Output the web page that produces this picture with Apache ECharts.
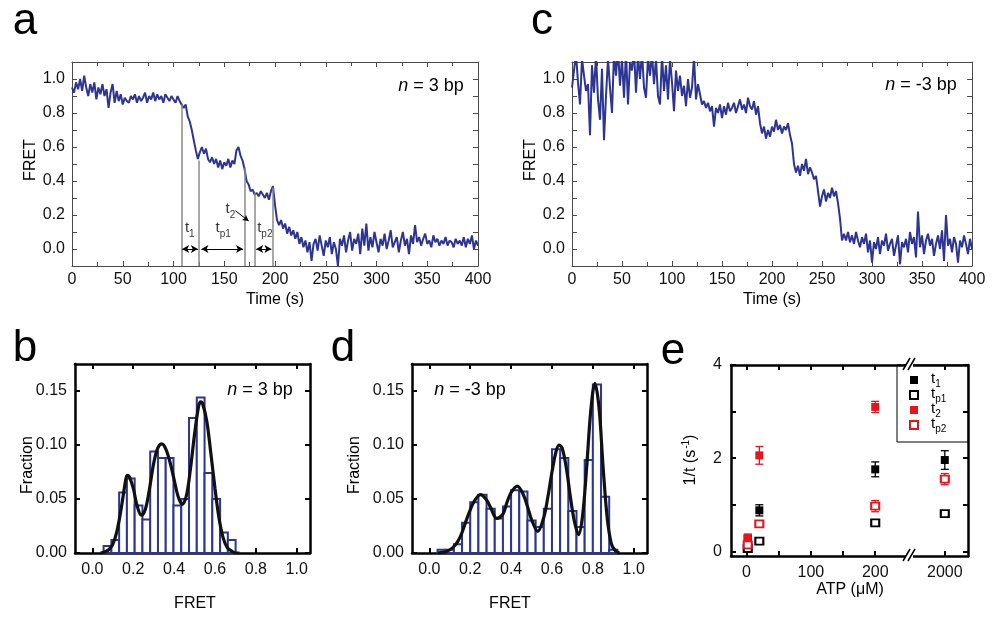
<!DOCTYPE html>
<html><head><meta charset="utf-8">
<script src="https://cdn.jsdelivr.net/npm/echarts@6/dist/echarts.min.js"></script>
<style>html,body{margin:0;padding:0;background:#fff}#c{width:994px;height:617px}</style>
</head><body><div id="c"></div>
<script>
// ---------------- DATA ----------------
const TRACE_DT = 2; // s between samples
const traceA = [
0.95,0.92,0.98,0.94,1.00,0.93,1.02,0.95,0.90,0.97,
0.92,0.98,0.88,0.95,0.91,0.97,0.90,0.94,0.83,0.92,
0.97,0.86,0.93,0.87,0.91,0.85,0.89,0.87,0.86,0.90,
0.88,0.91,0.86,0.90,0.87,0.89,0.92,0.86,0.90,0.88,
0.92,0.87,0.91,0.88,0.90,0.86,0.91,0.89,0.87,0.90,
0.88,0.86,0.90,0.87,0.85,0.83,0.85,0.78,0.75,0.70,
0.64,0.58,0.53,0.57,0.60,0.56,0.59,0.53,0.51,0.54,
0.50,0.53,0.48,0.52,0.47,0.51,0.49,0.53,0.48,0.52,
0.50,0.58,0.60,0.55,0.52,0.47,0.40,0.38,0.34,0.35,
0.32,0.33,0.31,0.34,0.32,0.30,0.33,0.29,0.34,0.37,
0.26,0.17,0.14,0.17,0.12,0.15,0.09,0.13,0.08,0.11,
0.06,0.10,0.03,0.07,0.01,0.05,-0.02,0.04,-0.07,0.03,
0.06,-0.01,0.08,0.02,-0.04,0.05,0.01,0.07,-0.03,0.04,
0.00,-0.10,0.06,0.02,0.08,-0.02,0.05,0.10,-0.01,0.06,
0.03,0.09,-0.03,0.12,0.02,0.15,-0.01,0.07,0.01,0.10,
0.04,-0.02,0.06,0.02,0.09,0.00,0.05,0.11,0.01,0.04,
0.07,-0.02,0.05,0.10,0.02,0.06,-0.03,0.08,0.03,0.14,
0.04,0.07,0.02,0.06,0.09,0.03,0.05,0.01,0.08,0.04,
0.06,0.02,0.05,0.03,0.07,0.02,0.05,0.04,0.01,0.06,
0.03,0.05,0.02,0.07,0.01,0.06,0.03,0.08,0.00,0.05,
0.02];
const traceC = [
0.95,1.05,1.15,0.98,0.85,1.12,1.02,0.93,0.97,0.67,
1.08,0.92,1.14,0.88,0.76,1.06,0.64,0.90,1.12,0.95,
0.80,1.15,1.02,1.18,0.96,1.12,0.89,1.16,0.85,1.10,
1.05,1.17,0.92,1.14,1.00,1.16,0.95,0.89,1.13,1.02,
1.15,0.97,1.12,0.90,0.85,1.14,0.93,1.08,0.88,1.12,
0.98,0.81,1.05,0.93,1.02,0.90,0.96,0.84,1.00,0.89,
0.95,1.13,0.88,0.97,0.91,0.85,0.87,0.83,0.86,0.81,
0.84,0.72,0.83,0.80,0.85,0.77,0.84,0.79,0.86,0.81,
0.83,0.86,0.80,0.84,0.88,0.82,0.85,0.80,0.89,0.84,
0.82,0.87,0.79,0.84,0.74,0.68,0.72,0.65,0.70,0.66,
0.72,0.69,0.76,0.70,0.73,0.68,0.72,0.70,0.74,0.67,
0.62,0.50,0.45,0.49,0.43,0.50,0.46,0.53,0.44,0.48,
0.45,0.41,0.43,0.34,0.25,0.31,0.35,0.28,0.33,0.30,
0.36,0.31,0.34,0.27,0.18,0.05,0.09,0.05,0.10,0.04,
0.08,0.03,0.10,0.05,0.01,0.07,0.03,0.09,-0.02,0.05,
-0.08,0.04,0.00,0.07,-0.03,0.05,0.02,0.09,-0.01,0.03,
0.06,-0.04,0.02,0.08,-0.09,0.04,0.01,0.06,-0.02,0.10,
0.03,0.07,-0.05,0.22,0.01,0.08,-0.03,0.05,0.09,0.02,
0.06,-0.04,0.03,0.08,0.00,0.11,-0.07,0.20,0.02,0.06,
-0.02,0.07,0.03,-0.08,0.05,0.01,0.08,0.03,-0.03,0.06,
0.00];

// dwell-time annotation in panel a
const stepTimes  = [108, 124.5, 170, 180, 197.5];
const stepTops   = [0.85, 0.52, 0.48, 0.33, 0.36];
const arrowSpans = [[108.5, 124], [127.5, 168.5], [181.5, 196.5]];
const intervalLabels = [['t','1',116,0.115],['t','p1',149,0.115],['t','p2',190,0.115]];
const t2Label = ['t','2',156,0.225];
const t2Pointer = [[161,0.225],[174,0.165]];

// histograms (bin centers, fraction)
const HIST_BIN_B = 0.038;
const histBCenters = [0.074,0.112,0.150,0.188,0.226,0.264,0.302,0.340,0.378,0.416,0.454,0.492,0.530,0.568,0.606,0.644,0.682];
const histBValues  = [0.0065,0.012,0.056,0.069,0.044,0.031,0.094,0.088,0.088,0.044,0.050,0.125,0.144,0.074,0.050,0.019,0.012];
const fitBx = [0.04,0.06,0.08,0.10,0.12,0.14,0.16,0.17,0.18,0.20,0.22,0.24,0.26,0.28,0.30,0.32,0.34,0.36,0.38,0.40,0.42,0.44,0.46,0.48,0.50,0.52,0.53,0.54,0.56,0.58,0.60,0.62,0.64,0.66,0.68,0.70,0.72];
const fitBy = [0.000,0.001,0.003,0.008,0.020,0.040,0.064,0.072,0.071,0.060,0.043,0.035,0.041,0.060,0.083,0.097,0.101,0.096,0.084,0.068,0.052,0.045,0.053,0.078,0.110,0.136,0.140,0.138,0.122,0.092,0.060,0.032,0.014,0.005,0.002,0.000,0.000];

const HIST_BIN_D = 0.04;
const histDCenters = [0.06,0.10,0.14,0.18,0.22,0.26,0.30,0.34,0.38,0.42,0.46,0.50,0.54,0.58,0.62,0.66,0.70,0.74,0.78,0.82,0.86,0.90];
const histDValues  = [0.003,0.003,0.008,0.028,0.047,0.054,0.041,0.032,0.043,0.058,0.057,0.030,0.024,0.041,0.096,0.088,0.039,0.024,0.086,0.156,0.052,0.003];
const fitDx = [0.04,0.08,0.10,0.12,0.14,0.16,0.18,0.20,0.22,0.25,0.28,0.30,0.33,0.36,0.38,0.40,0.43,0.46,0.48,0.50,0.53,0.56,0.58,0.60,0.62,0.635,0.65,0.67,0.69,0.71,0.73,0.75,0.77,0.79,0.81,0.83,0.85,0.87,0.89,0.91,0.93];
const fitDy = [0.000,0.001,0.003,0.006,0.011,0.019,0.030,0.040,0.048,0.054,0.049,0.042,0.032,0.036,0.047,0.056,0.062,0.054,0.043,0.031,0.020,0.033,0.052,0.075,0.094,0.100,0.097,0.079,0.052,0.029,0.017,0.035,0.080,0.132,0.157,0.135,0.080,0.033,0.009,0.002,0.000];

// panel e: rates vs [ATP]
const atpLow  = [2, 20, 200];
const atpHigh = [2000];
const t1Rate  = [0.28, 0.88, 1.76], t1Err  = [0.03, 0.12, 0.16];
const t1RateH = [1.96],             t1ErrH = [0.20];
const tp1Rate = [0.06, 0.22, 0.61], tp1Err = [0.02, 0.03, 0.04];
const tp1RateH= [0.81],             tp1ErrH= [0.05];
const t2Rate  = [0.30, 2.06, 3.10], t2Err  = [0.04, 0.19, 0.12];
const tp2Rate = [0.14, 0.59, 0.97], tp2Err = [0.03, 0.05, 0.12];
const tp2RateH= [1.55],             tp2ErrH= [0.12];

// tick labels
const traceYLabels = [0,0.2,0.4,0.6,0.8,1.0];
const traceYTicks  = [0,0.1,0.2,0.3,0.4,0.5,0.6,0.7,0.8,0.9,1.0];
const histXLabels  = [0,0.2,0.4,0.6,0.8,1.0];
const histYLabels  = [0,0.05,0.10,0.15];
const eYTicks = [0,1,2,3,4], eYLabels = [0,2,4];
const eXTicksLow = [0,50,100,150,200], eXLabelsLow = [0,100,200];
const eXHigh = [2000];

// ---------------- STYLE ----------------
const FF = '"Liberation Sans", Arial, Helvetica, sans-serif';
const BLUE = '#2c3592';
const RED = '#e8141c';
const thin = '#4a4a4a';

const chart = echarts.init(document.getElementById('c'));

const pairs = (xs, ys) => xs.map((x, i) => [x, ys[i]]);
const tracePairs = arr => arr.map((v, i) => [i * TRACE_DT, v]);

function traceX(grid, top) {
  return {
    gridIndex: grid, type: 'value', min: 0, max: 400, interval: 50,
    position: top ? 'top' : 'bottom',
    axisLine: {show: true, onZero: false, lineStyle: {color: thin, width: 1}},
    axisTick: {inside: true, length: 5, lineStyle: {color: thin, width: 1}},
    minorTick: {show: true, splitNumber: 2, length: 4, lineStyle: {color: thin, width: 1}},
    axisLabel: {show: !top, fontFamily: FF, fontSize: 16, color: '#111', margin: 6},
    splitLine: {show: false}, minorSplitLine: {show: false}
  };
}
function traceY(grid, right) {
  return {
    gridIndex: grid, type: 'value', min: -0.1, max: 1.1,
    position: right ? 'right' : 'left',
    axisLine: {show: true, onZero: false, lineStyle: {color: thin, width: 1}},
    axisTick: {inside: true, length: 5, customValues: traceYTicks, lineStyle: {color: thin, width: 1}},
    axisLabel: {show: !right, customValues: traceYLabels, formatter: v => v.toFixed(1), fontFamily: FF, fontSize: 16, color: '#111', margin: 7},
    splitLine: {show: false}
  };
}
const thick = {color: '#000', width: 2.5};
const thickTick = {color: '#000', width: 2};
function histX(grid, top) {
  return {
    gridIndex: grid, type: 'value', min: -0.085, max: 1.065,
    position: top ? 'top' : 'bottom',
    axisLine: {show: true, onZero: false, lineStyle: thick},
    axisTick: {inside: true, length: 5, customValues: histXLabels, lineStyle: thickTick},
    axisLabel: {show: !top, customValues: histXLabels, formatter: v => v.toFixed(1), fontFamily: FF, fontSize: 16, color: '#111', margin: 9},
    splitLine: {show: false}
  };
}
function histY(grid, right) {
  return {
    gridIndex: grid, type: 'value', min: 0, max: 0.175,
    position: right ? 'right' : 'left',
    axisLine: {show: true, onZero: false, lineStyle: thick},
    axisTick: {inside: true, length: 5, customValues: histYLabels, lineStyle: thickTick},
    axisLabel: {show: !right, customValues: histYLabels, formatter: v => v.toFixed(2), fontFamily: FF, fontSize: 16, color: '#111', margin: 8},
    splitLine: {show: false}
  };
}
function eX(grid, top, lo, hi, ticks, labels) {
  return {
    gridIndex: grid, type: 'value', min: lo, max: hi,
    position: top ? 'top' : 'bottom',
    axisLine: {show: true, onZero: false, lineStyle: thick},
    axisTick: {inside: true, length: 5, customValues: ticks, lineStyle: thickTick},
    axisLabel: {show: !top, customValues: labels, formatter: v => String(v), fontFamily: FF, fontSize: 16, color: '#111', margin: 9},
    splitLine: {show: false}
  };
}
function eY(grid, right) {
  return {
    gridIndex: grid, type: 'value', min: -0.1, max: 4,
    position: right ? 'right' : 'left',
    axisLine: {show: true, onZero: false, lineStyle: thick},
    axisTick: {inside: true, length: 5, customValues: eYTicks, lineStyle: thickTick},
    axisLabel: {show: !right, customValues: eYLabels, formatter: v => String(v), fontFamily: FF, fontSize: 16, color: '#111', margin: 9},
    splitLine: {show: false}
  };
}

function histRenderer(bin) {
  return function (params, api) {
    const c = api.value(0), h = api.value(1);
    const p0 = api.coord([c - bin / 2, h]);
    const p1 = api.coord([c + bin / 2, 0]);
    return {type: 'rect', shape: {x: p0[0], y: p0[1], width: p1[0] - p0[0], height: p1[1] - p0[1]},
            style: {fill: '#fff', stroke: BLUE, lineWidth: 2}};
  };
}
function errRender(params, api) {
  const x = api.value(0), y = api.value(1), e = api.value(2);
  const a = api.coord([x, y + e]), b = api.coord([x, y - e]);
  const w = 4;
  const st = {stroke: api.visual('color'), lineWidth: 1.3};
  return {type: 'group', children: [
    {type: 'line', shape: {x1: a[0], y1: a[1], x2: b[0], y2: b[1]}, style: st},
    {type: 'line', shape: {x1: a[0] - w, y1: a[1], x2: a[0] + w, y2: a[1]}, style: st},
    {type: 'line', shape: {x1: b[0] - w, y1: b[1], x2: b[0] + w, y2: b[1]}, style: st}
  ]};
}
const triple = (xs, ys, es) => xs.map((x, i) => [x, ys[i], es[i]]);

function errSeries(xi, yi, xs, ys, es, color) {
  return {type: 'custom', xAxisIndex: xi, yAxisIndex: yi, renderItem: errRender,
          itemStyle: {color}, data: triple(xs, ys, es), z: 3, silent: true};
}
function ptSeries(name, xi, yi, xs, ys, color, empty) {
  return {name, type: 'scatter', xAxisIndex: xi, yAxisIndex: yi,
          symbol: empty ? 'emptyRect' : 'rect', symbolSize: empty ? [8, 7] : 8,
          itemStyle: {color, borderColor: color, borderWidth: empty ? 1.2 : 0, opacity: 1},
          emphasis: {disabled: true},
          data: pairs(xs, ys), z: 4};
}

const subRich = {
  m: {fontFamily: FF, fontSize: 15, color: '#000', verticalAlign: 'bottom', padding: [0, 0, 4, 0]},
  s: {fontFamily: FF, fontSize: 10, color: '#000', verticalAlign: 'bottom'}
};

function text(x, y, t, size, rot) {
  const g = {type: 'text', x, y, style: {text: t, fontFamily: FF, fontSize: size, fill: '#000', align: 'center', verticalAlign: 'middle'}};
  if (rot) g.rotation = Math.PI / 2;
  return g;
}
const nrich = {i: {fontFamily: FF, fontSize: 18, fontStyle: 'italic', fill: '#000'}, r: {fontFamily: FF, fontSize: 18, fill: '#000'}};
function nLabel(x, y, s) {
  return {type: 'text', x, y, style: {text: '{i|n}{r| = ' + s + '}', rich: nrich, align: 'center', verticalAlign: 'middle'}};
}

const option = {
  animation: false,
  backgroundColor: '#fff',
  grid: [
    {left: 72, top: 62, width: 406, height: 204},
    {left: 572, top: 62, width: 400, height: 204},
    {left: 75, top: 364, width: 235, height: 189},
    {left: 412, top: 364, width: 235, height: 189},
    {left: 731, top: 365, width: 179, height: 191},
    {left: 910, top: 365, width: 58, height: 191}
  ],
  xAxis: [
    traceX(0, false), traceX(0, true),
    traceX(1, false), traceX(1, true),
    histX(2, false), histX(2, true),
    histX(3, false), histX(3, true),
    eX(4, false, -24, 254, eXTicksLow, eXLabelsLow), eX(4, true, -24, 254, eXTicksLow, eXLabelsLow),
    eX(5, false, 1946, 2036, eXHigh, eXHigh), eX(5, true, 1946, 2036, eXHigh, eXHigh)
  ],
  yAxis: [
    traceY(0, false), traceY(0, true),
    traceY(1, false), traceY(1, true),
    histY(2, false), histY(2, true),
    histY(3, false), histY(3, true),
    eY(4, false), eY(5, true)
  ],
  legend: {
    data: ['t1', 'tp1', 't2', 'tp2'],
    orient: 'vertical', left: 897, top: 365,
    itemWidth: 8, itemHeight: 8, itemGap: -3,
    padding: [6, 22, 8, 12],
    borderColor: '#000', borderWidth: 1,
    selectedMode: false,
    textStyle: {fontFamily: FF, fontSize: 15, color: '#000', rich: {
      m: {fontFamily: FF, fontSize: 15, color: '#000', verticalAlign: 'bottom', padding: [0, 0, 3, 8]},
      s: {fontFamily: FF, fontSize: 10, color: '#000', verticalAlign: 'bottom'}
    }},
    formatter: n => ({t1: '{m|t}{s|1}', tp1: '{m|t}{s|p1}', t2: '{m|t}{s|2}', tp2: '{m|t}{s|p2}'}[n])
  },
  series: [
    // panel a trace + annotations
    {type: 'line', xAxisIndex: 0, yAxisIndex: 0, data: tracePairs(traceA), showSymbol: false,
     lineStyle: {color: BLUE, width: 2}, itemStyle: {color: BLUE}, clip: true, z: 3,
     markLine: {silent: true, symbol: 'none', animation: false, label: {show: false},
       lineStyle: {color: '#8a8a8a', width: 1.5, type: 'solid'},
       data: stepTimes.map((t, i) => [{coord: [t, -0.1]}, {coord: [t, stepTops[i]]}])}},
    {type: 'line', xAxisIndex: 0, yAxisIndex: 0, data: [], z: 4,
     markLine: {silent: true, symbol: ['arrow', 'arrow'], symbolSize: [6, 7], animation: false, label: {show: false},
       lineStyle: {color: '#000', width: 1, type: 'solid'},
       data: arrowSpans.map(s => [{coord: [s[0], 0]}, {coord: [s[1], 0]}])}},
    {type: 'line', xAxisIndex: 0, yAxisIndex: 0, data: [], z: 4,
     markLine: {silent: true, symbol: ['none', 'arrow'], symbolSize: [5, 6], animation: false, label: {show: false},
       lineStyle: {color: '#000', width: 1, type: 'solid'},
       data: [[{coord: t2Pointer[0]}, {coord: t2Pointer[1]}]]}},
    {type: 'scatter', xAxisIndex: 0, yAxisIndex: 0, symbolSize: 0, silent: true, z: 5,
     data: intervalLabels.concat([t2Label]).map(l => ({value: [l[2], l[3]], sub: l[1]})),
     itemStyle: {color: 'transparent'},
     label: {show: true, position: 'inside', formatter: p => '{m|t}{s|' + p.data.sub + '}', rich: subRich}},
    // panel c
    {type: 'line', xAxisIndex: 2, yAxisIndex: 2, data: tracePairs(traceC), showSymbol: false,
     lineStyle: {color: BLUE, width: 2}, itemStyle: {color: BLUE}, clip: true, z: 3},
    // panel b
    {type: 'custom', xAxisIndex: 4, yAxisIndex: 4, renderItem: histRenderer(HIST_BIN_B), data: pairs(histBCenters, histBValues), z: 2, silent: true},
    {type: 'line', xAxisIndex: 4, yAxisIndex: 4, data: pairs(fitBx, fitBy), smooth: 0.35, showSymbol: false,
     lineStyle: {color: '#111', width: 3.2}, z: 3},
    // panel d
    {type: 'custom', xAxisIndex: 6, yAxisIndex: 6, renderItem: histRenderer(HIST_BIN_D), data: pairs(histDCenters, histDValues), z: 2, silent: true},
    {type: 'line', xAxisIndex: 6, yAxisIndex: 6, data: pairs(fitDx, fitDy), smooth: 0.35, showSymbol: false,
     lineStyle: {color: '#111', width: 3.2}, z: 3},
    // panel e, low segment
    errSeries(8, 8, atpLow, t1Rate, t1Err, '#000'),
    errSeries(8, 8, atpLow, tp1Rate, tp1Err, '#000'),
    errSeries(8, 8, atpLow, t2Rate, t2Err, RED),
    errSeries(8, 8, atpLow, tp2Rate, tp2Err, RED),
    ptSeries('t1', 8, 8, atpLow, t1Rate, '#000', false),
    ptSeries('tp1', 8, 8, atpLow, tp1Rate, '#000', true),
    ptSeries('t2', 8, 8, atpLow, t2Rate, RED, false),
    ptSeries('tp2', 8, 8, atpLow, tp2Rate, RED, true),
    // panel e, high segment
    errSeries(10, 9, atpHigh, t1RateH, t1ErrH, '#000'),
    errSeries(10, 9, atpHigh, tp1RateH, tp1ErrH, '#000'),
    errSeries(10, 9, atpHigh, tp2RateH, tp2ErrH, RED),
    ptSeries('t1', 10, 9, atpHigh, t1RateH, '#000', false),
    ptSeries('tp1', 10, 9, atpHigh, tp1RateH, '#000', true),
    ptSeries('tp2', 10, 9, atpHigh, tp2RateH, RED, true)
  ],
  graphic: [
    text(25, 22, 'a', 44), text(542, 22, 'c', 44),
    text(25, 349, 'b', 44), text(343, 349, 'd', 44), text(673, 352, 'e', 44),
    text(31, 160, 'FRET', 16, true), text(275, 300, 'Time (s)', 16),
    text(531, 160, 'FRET', 16, true), text(772, 300, 'Time (s)', 16),
    text(28, 465, 'Fraction', 16, true), text(195, 604, 'FRET', 16),
    text(355, 465, 'Fraction', 16, true), text(510, 604, 'FRET', 16),
    text(850, 590, 'ATP (μM)', 16),
    nLabel(431, 86, '3 bp'), nLabel(921, 85, '-3 bp'),
    nLabel(260, 390, '3 bp'), nLabel(470, 390, '-3 bp'),
    {type: 'text', x: 690, y: 460, rotation: Math.PI / 2, style: {text: '{m|1/t (s}{p|-1}{m|)}', align: 'center', verticalAlign: 'middle',
      rich: {m: {fontFamily: FF, fontSize: 16, fill: '#000', verticalAlign: 'bottom'}, p: {fontFamily: FF, fontSize: 10, fill: '#000', verticalAlign: 'bottom', padding: [0, 0, 8, 1]}}}},
    // axis break marks
    {type: 'rect', shape: {x: 906, y: 362, width: 7, height: 6}, style: {fill: '#fff'}, z: 100},
    {type: 'line', shape: {x1: 903, y1: 370, x2: 910, y2: 358}, style: {stroke: '#000', lineWidth: 1.5}, z: 101},
    {type: 'line', shape: {x1: 908, y1: 370, x2: 915, y2: 358}, style: {stroke: '#000', lineWidth: 1.5}, z: 101},
    {type: 'rect', shape: {x: 906, y: 553, width: 7, height: 6}, style: {fill: '#fff'}, z: 100},
    {type: 'line', shape: {x1: 903, y1: 561, x2: 910, y2: 549}, style: {stroke: '#000', lineWidth: 1.5}, z: 101},
    {type: 'line', shape: {x1: 908, y1: 561, x2: 915, y2: 549}, style: {stroke: '#000', lineWidth: 1.5}, z: 101}
  ]
};
chart.setOption(option);
</script>
</body></html>
